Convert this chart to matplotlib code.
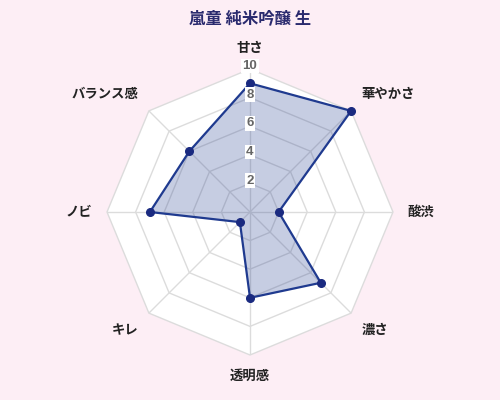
import numpy as np
import matplotlib
matplotlib.use('Agg')
import matplotlib.pyplot as plt

plt.rcParams['font.family'] = ['Noto Sans CJK JP', 'DejaVu Sans']

# data
title = '嵐童 純米吟醸 生'
categories = ['甘さ', '華やかさ', '酸渋', '濃さ', '透明感', 'キレ', 'ノビ', 'バランス感']
values = [9, 10, 2, 7, 6, 1, 7, 6]
ticks = [2, 4, 6, 8, 10]

bg = '#fdeef5'
line_col = '#1f3a8f'
marker_col = '#1a2a80'
grid_col = '#dcdcdc'

fig = plt.figure(figsize=(5, 4), dpi=100)
fig.set_facecolor(bg)
ax = fig.add_axes([0.214, 0.1125, 0.572, 0.715], projection='polar')
ax.set_facecolor('none')
ax.set_theta_zero_location('N')
ax.set_theta_direction(-1)
ax.set_ylim(0, 10)
ax.grid(False)
ax.spines['polar'].set_visible(False)
ax.set_xticks([])
ax.set_yticks([])

n = len(categories)
angles = np.linspace(0, 2 * np.pi, n, endpoint=False)
closed = np.append(angles, angles[0])

# white octagon background
ax.fill(closed, [10] * (n + 1), color='white', zorder=0, lw=0)

# octagon rings
for t in ticks:
    ax.plot(closed, [t] * (n + 1), color=grid_col, lw=1, zorder=1, clip_on=False)
# spokes
for a in angles:
    ax.plot([a, a], [0, 10], color=grid_col, lw=1, zorder=1)

# data polygon
vals = values + values[:1]
ax.fill(closed, vals, color=line_col, alpha=0.25, lw=0, zorder=2)
ax.plot(closed, vals, color=line_col, lw=1.6, zorder=3, clip_on=False)
ax.plot(angles, values, 'o', color=marker_col, markersize=5.5, zorder=4, clip_on=False)

# tick labels
for t in ticks:
    ax.text(0, t + 0.2, str(t), ha='center', va='center', fontsize=9.5,
            fontweight='bold', color='#666666', zorder=5, family='Liberation Sans',
            bbox=dict(boxstyle='square,pad=0.1', fc='white', ec='none'))

# category labels
aligns = [('center', 'bottom'), ('left', 'bottom'), ('left', 'center'), ('left', 'top'),
          ('center', 'top'), ('right', 'top'), ('right', 'center'), ('right', 'bottom')]
for a, lab, (ha, va) in zip(angles, categories, aligns):
    ax.text(a, 11, lab, ha=ha, va=va, fontsize=9.6, fontweight='bold', color='#222222')

fig.text(0.5, 0.955, title, ha='center', va='center', fontsize=11.8,
         fontweight='bold', color='#2a2a6e')

fig.savefig('out.png', dpi=100, facecolor=bg)
